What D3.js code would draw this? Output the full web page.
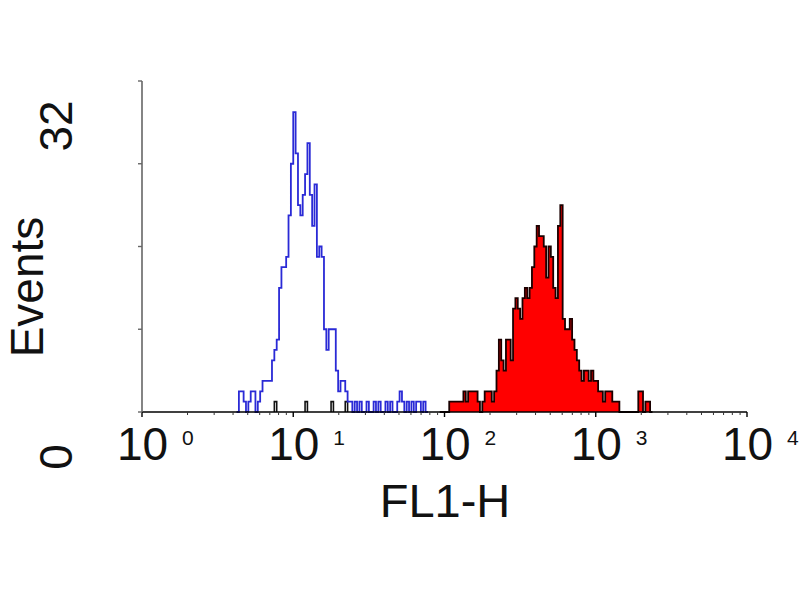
<!DOCTYPE html>
<html>
<head>
<meta charset="utf-8">
<script src="https://cdn.jsdelivr.net/npm/d3@7"></script>
<style>
  html, body { margin: 0; padding: 0; background: #fff; }
  svg { display: block; }
  text { font-family: "Liberation Sans", Arial, sans-serif; fill: #111; }
</style>
</head>
<body>
<svg id="chart" width="800" height="600"></svg>
<script>
// ---- data (256 log channels over 4 decades, 64 channels per decade) ----
const channelsPerDecade = 64;
const xDecades = [0, 1, 2, 3, 4];
const yTicks = [0, 8, 16, 24, 32];
const yLabelValues = [0, 32];

// isotype control (blue outline)
const controlFirstChannel = 40;
const controlCounts = [
  0, 2, 2, 1, 0, 1, 2, 2, 0, 1,        // 40-49
  2, 3, 3, 3, 3, 5, 6, 7, 12, 14,      // 50-59
  14, 15, 19, 24, 29, 25, 20, 19, 21, 23, // 60-69
  26, 21, 18, 22, 15, 16, 15, 8, 6, 8,  // 70-79
  8, 8, 4, 2, 3, 3, 2, 1, 1, 0,         // 80-89
  1, 0, 1, 0, 0, 1, 0, 0, 1, 0,         // 90-99
  1, 0, 0, 1, 0, 1, 0, 0, 1, 2,         // 100-109
  1, 0, 1, 0, 1, 0, 1, 1, 0, 1, 0       // 110-120
];

// stained sample (red filled)
const sampleFirstChannel = 126;
const sampleCounts = [
  0, 0, 0, 0, 1, 1, 1, 1, 1, 1,         // 126-135
  2, 1, 2, 2, 2, 2, 1, 0, 1, 2,         // 136-145
  2, 2, 1, 2, 4, 7, 5, 4, 7, 7,         // 146-155
  5, 10, 11, 10, 9, 11, 12, 11, 12, 14, // 156-165
  16, 18, 17, 17, 16, 13, 16, 15, 12, 11, // 166-175
  18, 20, 9, 8, 8, 9, 7, 6, 5, 4,       // 176-185
  3, 4, 4, 3, 4, 3, 3, 2, 2, 1,         // 186-195
  2, 2, 2, 1, 1, 1, 0, 0, 0, 0,         // 196-205
  0, 0, 0, 0, 2, 2, 0, 1, 1, 0          // 206-215
];
// isolated single events of the sample near the control peak
const sampleStrayChannels = [56, 69, 80, 86];
const sampleStrayCounts = [1, 1, 1, 1];

// ---- drawing ----
const svg = d3.select("#chart");
const x = d3.scaleLog().domain([1, 10000]).range([142, 747]);
const y = d3.scaleLinear().domain([0, 32]).range([412, 81]);

const edge = c => Math.pow(10, c / channelsPerDecade);

function stepPoints(first, counts) {
  const pts = [[edge(first), 0]];
  counts.forEach((v, i) => pts.push([edge(first + i), v]));
  pts.push([edge(first + counts.length), 0]);
  return pts;
}

const line = d3.line().x(d => x(d[0])).y(d => y(d[1])).curve(d3.curveStepAfter);
const area = d3.area().x(d => x(d[0])).y0(y(0)).y1(d => y(d[1])).curve(d3.curveStepAfter);

// sample: filled red with dark outline
const samplePts = stepPoints(sampleFirstChannel, sampleCounts);
svg.append("path").datum(samplePts).attr("d", area).attr("fill", "#ff0000");
svg.append("path").datum(samplePts).attr("d", line)
  .attr("fill", "none").attr("stroke", "#1a0000").attr("stroke-width", 1.8);

sampleStrayChannels.forEach((c, i) => {
  const pts = stepPoints(c, [sampleStrayCounts[i]]);
  svg.append("path").datum(pts).attr("d", line)
    .attr("fill", "none").attr("stroke", "#111").attr("stroke-width", 1.6);
});

// control: blue outline
const controlPts = stepPoints(controlFirstChannel, controlCounts);
svg.append("path").datum(controlPts).attr("d", line)
  .attr("fill", "none").attr("stroke", "#2a2ad6").attr("stroke-width", 1.8)
  .attr("stroke-linejoin", "miter");

// x axis
const xAxis = svg.append("g");
xAxis.append("line").attr("x1", x(1)).attr("x2", x(10000))
  .attr("y1", y(0)).attr("y2", y(0)).attr("stroke", "#000").attr("stroke-width", 1.6);
const minorVals = [];
for (let d = 0; d < 4; d++) for (let m = 2; m <= 9; m++) minorVals.push(m * Math.pow(10, d));
xAxis.selectAll(".minor").data(minorVals).enter().append("line")
  .attr("x1", d => x(d)).attr("x2", d => x(d))
  .attr("y1", y(0)).attr("y2", y(0) + 3).attr("stroke", "#333").attr("stroke-width", 1);
xAxis.selectAll(".major").data(xDecades).enter().append("line")
  .attr("x1", d => x(Math.pow(10, d))).attr("x2", d => x(Math.pow(10, d)))
  .attr("y1", y(0)).attr("y2", y(0) + 5).attr("stroke", "#000").attr("stroke-width", 1.4);

const lab = xAxis.selectAll(".lab").data(xDecades).enter().append("g");
lab.append("text")
  .attr("x", d => x(Math.pow(10, d)) - 25).attr("y", 460)
  .attr("font-size", 46).text("10");
lab.append("text")
  .attr("x", d => x(Math.pow(10, d)) + 40).attr("y", 445)
  .attr("font-size", 21).text(d => d);

svg.append("text").attr("x", 445).attr("y", 517)
  .attr("text-anchor", "middle").attr("font-size", 47).text("FL1-H");

// y axis
const yAxis = svg.append("g");
yAxis.append("line").attr("x1", 142).attr("x2", 142)
  .attr("y1", y(32)).attr("y2", y(0)).attr("stroke", "#666").attr("stroke-width", 1.6);
yAxis.selectAll(".yt").data(yTicks).enter().append("line")
  .attr("x1", 138).attr("x2", 142).attr("y1", d => y(d)).attr("y2", d => y(d))
  .attr("stroke", "#666").attr("stroke-width", 1.4);

const yLabelPos = d3.scaleLinear().domain([0, 32]).range([457, 126]);
yAxis.selectAll(".yl").data(yLabelValues).enter().append("text")
  .attr("transform", d => `translate(72,${yLabelPos(d)}) rotate(-90)`)
  .attr("text-anchor", "middle")
  .attr("font-size", 46).text(d => d);

svg.append("text").attr("transform", "translate(43,287) rotate(-90)")
  .attr("text-anchor", "middle").attr("font-size", 46).text("Events");
</script>
</body>
</html>
